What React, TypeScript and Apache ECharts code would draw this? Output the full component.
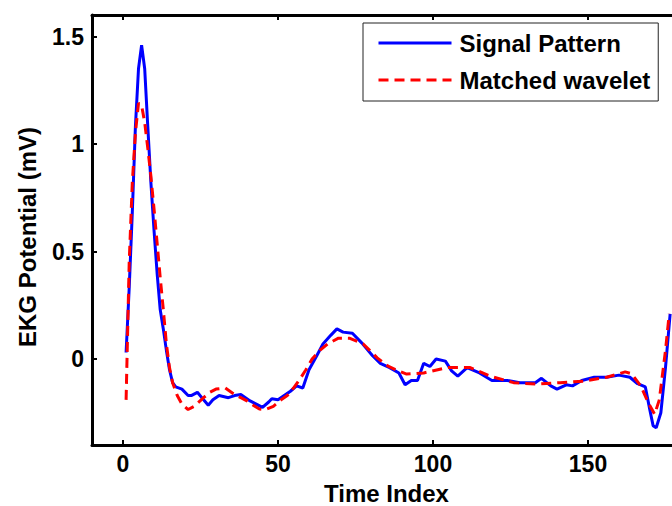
import React, { useEffect, useRef } from "react";
import * as echarts from "echarts";

const signalX = [1, 2, 3, 4, 5, 6, 7, 8, 9, 10, 11, 12, 13, 14, 15, 16, 17, 19, 21, 22, 24, 26, 27.5, 29, 31, 34, 36, 38, 41, 43, 45, 47, 48, 50, 52, 54, 56, 58, 60, 62.5, 64.5, 67, 69, 71, 74, 77, 80.5, 83, 86, 89, 91, 93, 95, 97, 99, 101, 104, 106, 108, 111, 115, 119, 124, 128, 133, 135, 138, 140, 143, 145, 148, 152, 156, 160, 163.5, 166, 168.5, 170, 171, 172, 173.5, 175, 176.5];
const signalY = [0.03, 0.33, 0.68, 1.08, 1.35, 1.46, 1.35, 1.08, 0.82, 0.6, 0.4, 0.23, 0.14, 0.04, -0.05, -0.11, -0.13, -0.14, -0.17, -0.17, -0.155, -0.19, -0.215, -0.19, -0.17, -0.18, -0.17, -0.165, -0.195, -0.21, -0.225, -0.2, -0.185, -0.19, -0.17, -0.15, -0.125, -0.135, -0.05, 0.015, 0.07, 0.11, 0.14, 0.125, 0.12, 0.075, 0.015, -0.02, -0.04, -0.065, -0.12, -0.1, -0.1, -0.02, -0.035, 0.0, -0.01, -0.055, -0.08, -0.04, -0.065, -0.1, -0.1, -0.11, -0.11, -0.09, -0.125, -0.14, -0.12, -0.125, -0.1, -0.085, -0.085, -0.075, -0.085, -0.115, -0.13, -0.24, -0.31, -0.32, -0.25, -0.04, 0.21];

const waveletX = [1, 2, 3, 4, 5, 6, 7, 8, 9, 10, 11, 12, 13, 14, 15, 16, 17.5, 19, 21, 23, 26, 28, 30, 33, 35.5, 38, 40, 42, 44, 46, 48.5, 51, 53, 55, 57, 59, 61, 63.5, 66, 69.5, 73, 77.5, 82, 85.5, 88, 91.5, 97, 104.5, 112, 118.5, 126, 133.5, 141, 148.5, 156, 162, 164, 167, 169.5, 171.5, 173, 175, 176.2];
const waveletY = [-0.19, 0.45, 0.82, 1.05, 1.19, 1.18, 1.1, 0.98, 0.85, 0.7, 0.54, 0.38, 0.23, 0.07, -0.04, -0.11, -0.17, -0.21, -0.235, -0.22, -0.18, -0.155, -0.14, -0.135, -0.16, -0.18, -0.195, -0.215, -0.233, -0.235, -0.22, -0.19, -0.17, -0.135, -0.095, -0.05, 0.0, 0.04, 0.07, 0.097, 0.097, 0.07, 0.005, -0.033, -0.05, -0.07, -0.065, -0.04, -0.04, -0.08, -0.11, -0.117, -0.11, -0.103, -0.085, -0.06, -0.068, -0.125, -0.205, -0.257, -0.19, 0.04, 0.21];

const xTicks = [0, 50, 100, 150];
const yTicks = [0, 0.5, 1, 1.5];
const seriesNames = ["Signal Pattern", "Matched wavelet"];
const xTitle = "Time Index";
const yTitle = "EKG Potential (mV)";

const FONT = "'Liberation Sans', Arial, Helvetica, sans-serif";

export default function App() {
  const ref = useRef<HTMLDivElement>(null);
  useEffect(() => {
    if (!ref.current) return;
    const chart = echarts.init(ref.current, undefined, { renderer: "svg" });
    const axisLine = { show: true, onZero: false, lineStyle: { color: "#000", width: 3 } };
    const labelStyle = { fontFamily: FONT, fontSize: 23, fontWeight: "bold" as const, color: "#000" };
    const titleStyle = { ...labelStyle, fontSize: 24 };
    const tick = { show: true, inside: true, length: 5, lineStyle: { width: 2, color: "#000" } };
    chart.setOption({
      animation: false,
      backgroundColor: "#fff",
      grid: { left: 92, top: 15, right: 19, bottom: 61, containLabel: false, outerBoundsMode: "none" },
      legend: {
        orient: "vertical",
        left: 363,
        top: 23,
        data: seriesNames,
        backgroundColor: "#fff",
        borderColor: "#222",
        borderWidth: 1,
        padding: [8, 8, 9, 14],
        itemWidth: 73,
        itemHeight: 14,
        itemGap: 13,
        itemStyle: { opacity: 0 },
        lineStyle: { width: 3 },
        textStyle: { ...titleStyle, lineHeight: 24, padding: [0, 0, 0, 3] },
      },
      graphic: [
        {
          type: "text",
          x: 27,
          y: 237,
          rotation: Math.PI / 2,
          style: {
            text: yTitle,
            textAlign: "center",
            textVerticalAlign: "middle",
            fontFamily: FONT,
            fontSize: 24,
            fontWeight: "bold",
            fill: "#000",
          },
        },
      ],
      xAxis: [
        {
          type: "value",
          min: -10,
          max: 180,
          position: "bottom",
          axisLine,
          axisTick: { ...tick, customValues: xTicks },
          axisLabel: { ...labelStyle, margin: 7, customValues: xTicks },
          splitLine: { show: false },
          name: xTitle,
          nameLocation: "middle",
          nameGap: 36,
          nameTextStyle: titleStyle,
        },
        {
          type: "value",
          min: -10,
          max: 180,
          position: "top",
          axisLine,
          axisTick: { ...tick, customValues: xTicks },
          axisLabel: { show: false },
          splitLine: { show: false },
        },
      ],
      yAxis: [
        {
          type: "value",
          min: -0.4,
          max: 1.6,
          position: "left",
          axisLine,
          axisTick: { ...tick, customValues: yTicks },
          axisLabel: { ...labelStyle, margin: 8, customValues: yTicks, formatter: (v: number) => String(v) },
          splitLine: { show: false },
        },
        {
          type: "value",
          min: -0.4,
          max: 1.6,
          position: "right",
          axisLine,
          axisTick: { ...tick, customValues: yTicks },
          axisLabel: { show: false },
          splitLine: { show: false },
        },
      ],
      series: [
        {
          name: seriesNames[0],
          type: "line",
          xAxisIndex: 0,
          yAxisIndex: 0,
          data: signalX.map((x, i) => [x, signalY[i]]),
          symbol: "none",
          lineStyle: { color: "#0000ff", width: 3 },
          itemStyle: { color: "#0000ff" },
        },
        {
          name: seriesNames[1],
          type: "line",
          xAxisIndex: 0,
          yAxisIndex: 0,
          data: waveletX.map((x, i) => [x, waveletY[i]]),
          symbol: "none",
          lineStyle: { color: "#ff0000", width: 3, type: [10, 6] },
          itemStyle: { color: "#ff0000" },
        },
      ],
    });
    return () => chart.dispose();
  }, []);
  return (
    <div style={{ position: "absolute", left: 0, top: 0, width: 672, height: 506, overflow: "hidden", background: "#fff" }}>
      <div ref={ref} style={{ width: 700, height: 506 }} />
    </div>
  );
}
